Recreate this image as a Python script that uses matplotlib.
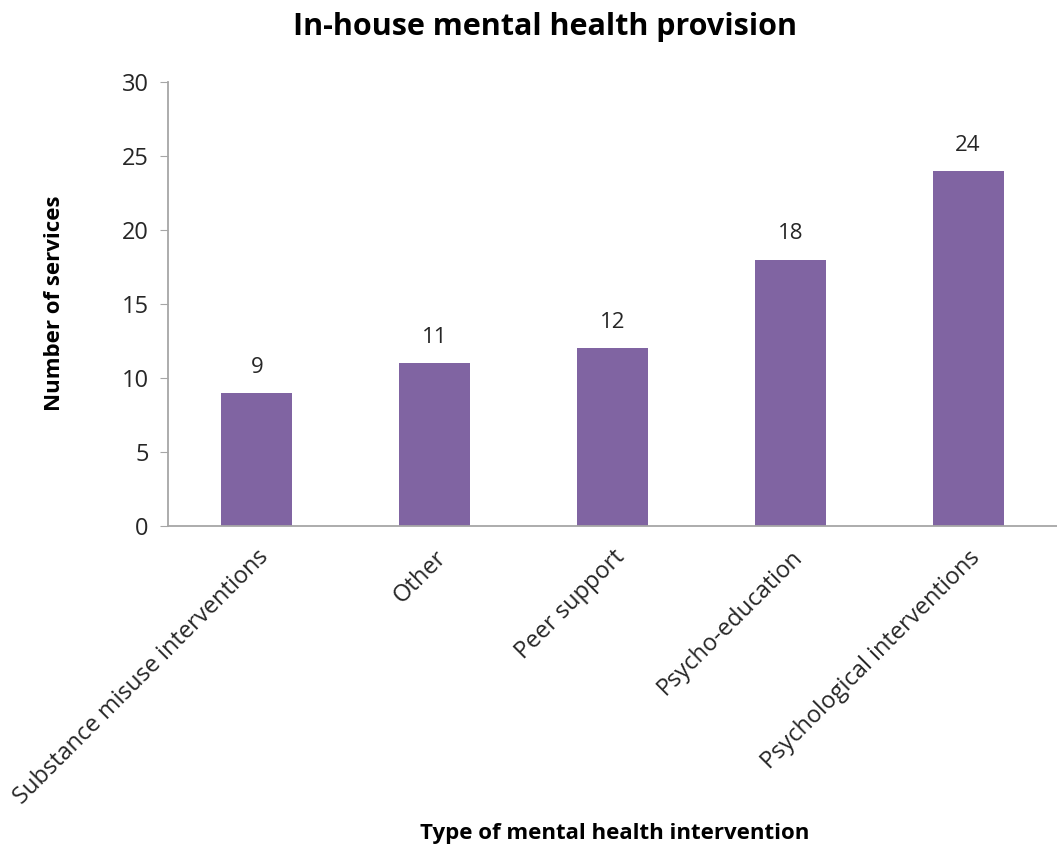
import matplotlib
matplotlib.use('Agg')
import matplotlib.pyplot as plt

categories = ['Substance misuse interventions', 'Other', 'Peer support',
              'Psycho-education', 'Psychological interventions']
values = [9, 11, 12, 18, 24]
y_ticks = [0, 5, 10, 15, 20, 25, 30]

BAR_COLOR = '#8064A2'
AXIS_COLOR = '#A6A6A6'
TEXT_COLOR = '#262626'

plt.rcParams['font.family'] = ['Open Sans', 'DejaVu Sans']

fig = plt.figure(figsize=(10.57, 8.5), dpi=100)
ax = fig.add_axes([168 / 1057, 1 - 526 / 850, (1057 - 168) / 1057, (526 - 82) / 850])

x = range(len(categories))
bars = ax.bar(x, values, width=0.4, color=BAR_COLOR)
ax.set_xlim(-0.5, len(categories) - 0.5)
ax.set_ylim(0, 30)
ax.set_yticks(y_ticks)

for b, v in zip(bars, values):
    ax.annotate(str(v), (b.get_x() + b.get_width() / 2, v),
                xytext=(0, 11), textcoords='offset points',
                ha='center', va='bottom', fontsize=16, color=TEXT_COLOR)

ax.set_xticks(list(x))
ax.set_xticklabels(categories, rotation=45, ha='right', rotation_mode='anchor',
                   fontsize=17, color=TEXT_COLOR)
ax.tick_params(axis='x', length=0, pad=14)
ax.tick_params(axis='y', length=6, color=AXIS_COLOR, labelsize=17,
               labelcolor=TEXT_COLOR, pad=8)

for side in ['top', 'right']:
    ax.spines[side].set_visible(False)
for side in ['left', 'bottom']:
    ax.spines[side].set_color(AXIS_COLOR)
    ax.spines[side].set_linewidth(1.3)

fig.text(545 / 1057, 1 - 27 / 850, 'In-house mental health provision',
         ha='center', va='center', fontsize=22, fontweight='bold', color='black')
fig.text(55 / 1057, 1 - 303 / 850, 'Number of services', rotation=90,
         ha='center', va='center', fontsize=16, fontweight='bold', color='black')
fig.text(615 / 1057, 1 - 833 / 850, 'Type of mental health intervention',
         ha='center', va='center', fontsize=16, fontweight='bold', color='black')

fig.savefig('out.png', dpi=100)
